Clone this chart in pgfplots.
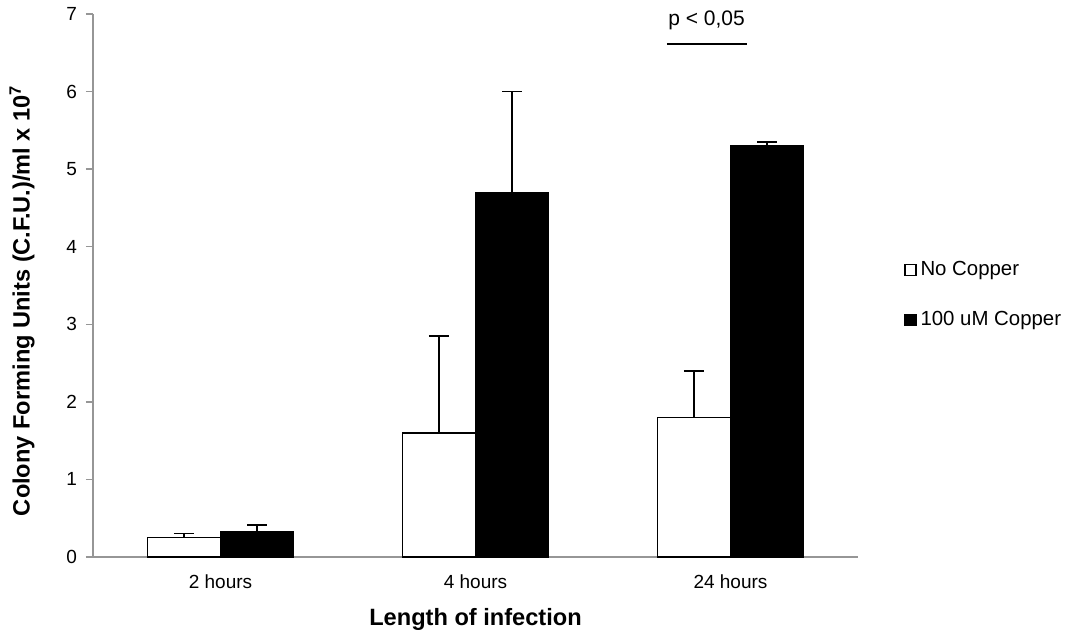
\documentclass[border=0pt]{standalone}
\usepackage{pgfplots}
\pgfplotsset{compat=1.18}
\usepackage{fontspec}
\setmainfont{Liberation Sans}
\definecolor{axgray}{RGB}{150,150,150}
\begin{document}
\begin{tikzpicture}
\begin{axis}[
  name=ax,
  scale only axis,
  width=382.5pt, height=271.5pt,
  ybar, bar width=0.287,
  xmin=-0.5, xmax=2.5,
  ymin=0, ymax=7,
  ytick={0,1,...,7},
  xtick={0,1,2},
  xticklabels={2 hours,4 hours,24 hours},
  major x tick style={draw=none},
  extra x ticks={-0.5,0.5,1.5,2.5},
  extra x tick labels={},
  extra x tick style={major tick length=3.5pt, tick style={draw=axgray, line width=0.7pt}},
  axis x line*=bottom,
  axis y line*=left,
  axis line style={draw=axgray, line width=0.8pt, -},
  tick style={draw=axgray, line width=0.7pt},
  tick align=outside,
  major tick length=3.5pt,
  /pgf/number format/assume math mode=true,
  tick label style={font=\fontsize{9.5}{11}\selectfont},
  yticklabel style={xshift=-1pt},
  xticklabel style={yshift=-2pt},
  xlabel={\textbf{Length of infection}},
  ylabel={\textbf{Colony Forming Units (C.F.U.)/ml x 10\textsuperscript{7}}},
  label style={font=\fontsize{11.8}{13}\selectfont},
  xlabel style={yshift=4pt},
  ylabel style={yshift=9pt, xshift=-7.5pt},
  clip=false,
  legend style={draw=none, fill=none, at={(rel axis cs:1.06,0.4825)}, anchor=west,
    font=\fontsize{10.2}{12}\selectfont, row sep=12.5pt, inner sep=0pt,
    /tikz/every even column/.append style={column sep=0pt}},
  legend cell align=left,
  legend image code/.code={\draw[#1, line width=0.6pt] (0pt,-2.75pt) rectangle (5.5pt,2.75pt);},
]
\addplot[bar shift=-0.1435, draw=black, fill=white, line width=0.75pt,
  error bars/.cd, y dir=plus, y explicit, error mark=|,
  error bar style={black, line width=0.75pt},
  error mark options={black, mark size=5pt, line width=0.75pt}]
  coordinates {(0,0.25) +- (0,0.05) (1,1.6) +- (0,1.25) (2,1.8) +- (0,0.6)};
\addlegendentry{No Copper}
\addplot[bar shift=0.1435, draw=black, fill=black, line width=0.75pt,
  error bars/.cd, y dir=plus, y explicit, error mark=|,
  error bar style={black, line width=0.75pt},
  error mark options={black, mark size=5pt, line width=0.75pt}]
  coordinates {(0,0.32) +- (0,0.09) (1,4.7) +- (0,1.3) (2,5.3) +- (0,0.05)};
\addlegendentry{100 uM Copper}
\addplot[sharp plot, black, line width=0.75pt, forget plot] coordinates {(1.75,6.61) (2.063,6.61)};
\node[font=\fontsize{10.5}{12}\selectfont] at (axis cs:1.906,6.92) {p < 0,05};
\coordinate (o) at (rel axis cs:0,0);
\coordinate (t) at (rel axis cs:1,1);
\end{axis}
\pgfresetboundingbox
\useasboundingbox ([shift={(-46.5pt,-37.5pt)}]o) rectangle ([shift={(106.5pt,7pt)}]t);
\end{tikzpicture}
\end{document}
